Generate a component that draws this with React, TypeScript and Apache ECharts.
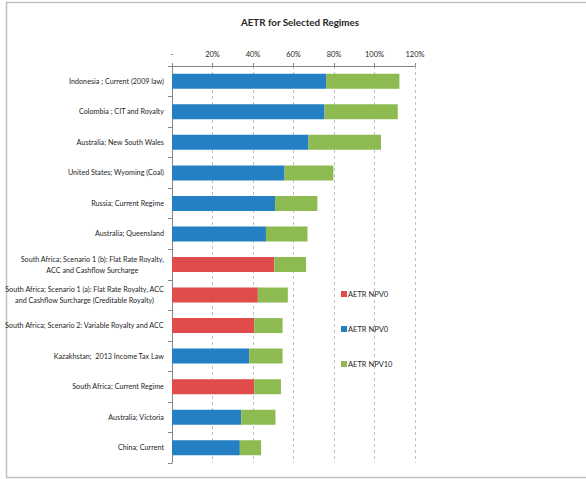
import React, { useEffect, useRef } from "react";
import * as echarts from "echarts";

const categories = [
  "Indonesia ; Current (2009 law)",
  "Colombia ; CIT and Royalty",
  "Australia; New South Wales",
  "United States; Wyoming (Coal)",
  "Russia; Current Regime",
  "Australia; Queensland",
  "South Africa; Scenario 1 (b): Flat Rate Royalty,\nACC and Cashflow Surcharge",
  "South Africa; Scenario 1 (a): Flat Rate Royalty, ACC\nand Cashflow Surcharge (Creditable Royalty)",
  "South Africa; Scenario 2: Variable Royalty and ACC",
  "Kazakhstan;  2013 Income Tax Law",
  "South Africa; Current Regime",
  "Australia; Victoria",
  "China; Current",
];

// AETR at NPV0 for South African regimes (red)
const npv0SouthAfrica = [null, null, null, null, null, null, 50.5, 42.4, 40.6, null, 40.6, null, null];
// AETR at NPV0 for other regimes (blue)
const npv0Other = [76.1, 75.3, 67.4, 55.6, 50.9, 46.4, null, null, null, 38.1, null, 34.2, 33.5];
// Additional AETR at NPV10 (green, stacked on NPV0)
const npv10Extra = [36.2, 36.2, 35.8, 24.1, 20.9, 20.5, 15.7, 14.8, 14.0, 16.5, 13.2, 16.9, 10.5];

const xTicks = [0, 20, 40, 60, 80, 100, 120];

const FONT = "Lato, 'Liberation Sans', Arial, sans-serif";
const TEXT = "#262626";

export default function App() {
  const ref = useRef<HTMLDivElement>(null);
  useEffect(() => {
    document.body.style.margin = "0";
    const chart = echarts.init(ref.current!, null, { renderer: "svg" });
    const legendText = { fontFamily: FONT, fontSize: 7.5, color: TEXT, lineHeight: 10 };
    chart.setOption({
      animation: false,
      textStyle: { fontFamily: FONT },
      title: {
        text: "AETR for Selected Regimes",
        left: 295,
        top: 12,
        textAlign: "center",
        textStyle: { fontFamily: FONT, fontSize: 9.8, fontWeight: "bold", color: TEXT },
      },
      graphic: [
        {
          type: "rect",
          shape: { x: 6.5, y: 2.5, width: 600, height: 475 },
          style: { fill: "none", stroke: "#c0c0c0", lineWidth: 1.5 },
          silent: true,
        },
      ],
      legend: [
        { data: ["AETR NPV0 SA"], top: 289, left: 341 },
        { data: ["AETR NPV0"], top: 324, left: 341 },
        { data: ["AETR NPV10"], top: 359, left: 341 },
      ].map((l) => ({
        ...l,
        orient: "vertical",
        itemWidth: 6,
        itemHeight: 6,
        itemGap: 2,
        padding: 0,
        icon: "rect",
        textStyle: { ...legendText, padding: [0, 0, 0, -4] },
        formatter: (n: string) => (n.startsWith("AETR NPV0") ? "AETR NPV0" : n),
        selectedMode: false,
      })),
      grid: { left: 172, right: 171, top: 66, bottom: 16, containLabel: false, outerBoundsMode: "none" },
      xAxis: {
        type: "value",
        position: "top",
        min: 0,
        max: 120,
        interval: 20,
        axisLine: { show: true, lineStyle: { color: "#868686", width: 1 } },
        axisTick: { show: true, length: 3, lineStyle: { color: "#868686" } },
        axisLabel: {
          margin: 8,
          fontFamily: FONT,
          fontSize: 7.5,
          color: TEXT,
          formatter: (v: number) => (v === 0 ? "-" : v + "%"),
          customValues: xTicks,
        },
        splitLine: { show: true, lineStyle: { color: "#bfbfbf", type: [3, 3] } },
      },
      yAxis: {
        type: "category",
        inverse: true,
        data: categories,
        axisLine: { show: true, lineStyle: { color: "#868686" } },
        axisTick: { show: true, length: 4, lineStyle: { color: "#868686" } },
        axisLabel: {
          margin: 8,
          fontFamily: FONT,
          fontSize: 7.2,
          color: TEXT,
          lineHeight: 11,
          formatter: (v: string) =>
            v
              .split("\n")
              .map((s) => "{c|" + s + "}")
              .join("\n"),
          rich: { c: { align: "center", fontFamily: FONT, fontSize: 7.2, color: TEXT, lineHeight: 11 } },
        },
      },
      series: [
        {
          name: "AETR NPV0 SA",
          type: "bar",
          stack: "aetr",
          data: npv0SouthAfrica,
          barWidth: 15,
          itemStyle: { color: "#e04b4b" },
        },
        {
          name: "AETR NPV0",
          type: "bar",
          stack: "aetr",
          data: npv0Other,
          barWidth: 15,
          itemStyle: { color: "#2580c3" },
        },
        {
          name: "AETR NPV10",
          type: "bar",
          stack: "aetr",
          data: npv10Extra,
          barWidth: 15,
          itemStyle: { color: "#8dbb51" },
        },
      ],
    });
    return () => chart.dispose();
  }, []);
  return <div ref={ref} style={{ width: 586, height: 479 }} />;
}
